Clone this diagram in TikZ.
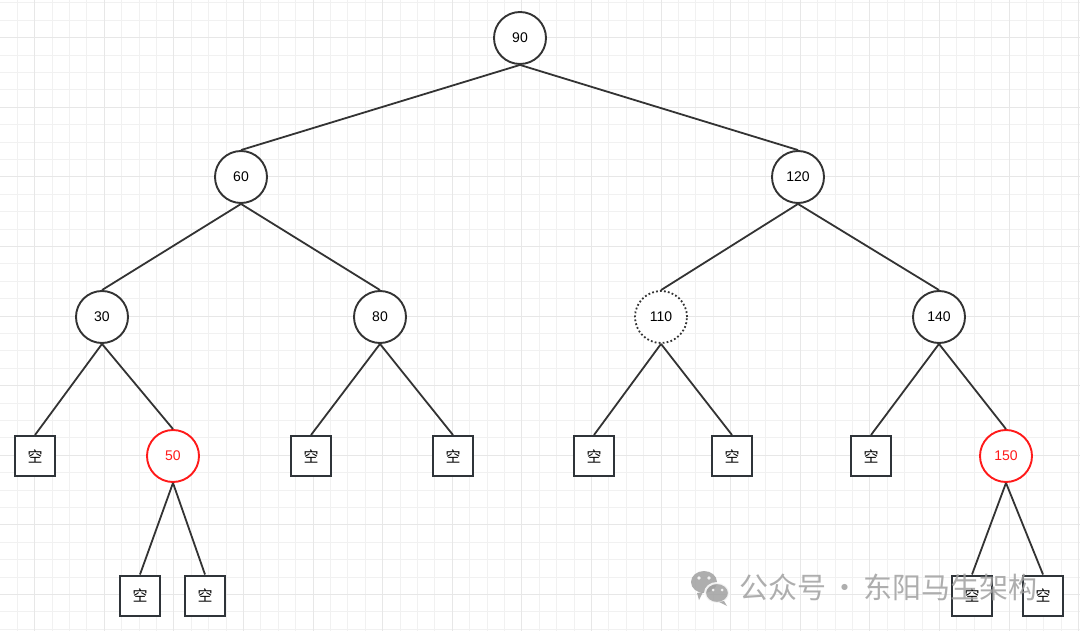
\documentclass[tikz,border=0pt]{standalone}
\usepackage{fontspec}
\setmainfont{Liberation Sans}
\newfontfamily\cjk{Noto Sans CJK SC}
\definecolor{linec}{HTML}{333333}
\definecolor{boxc}{HTML}{2F3439}
\definecolor{gridminor}{HTML}{F1F1F1}
\definecolor{gridmajor}{HTML}{E7E7E7}
\definecolor{wm}{HTML}{A0A0A0}
\definecolor{nred}{HTML}{FF1A1A}
\begin{document}
\begin{tikzpicture}[x=1pt,y=-1pt,
  tn/.style={circle, draw=linec, line width=1.9pt, fill=white, minimum size=52pt, inner sep=0pt, font=\fontsize{14}{16}\selectfont},
  rn/.style={tn, draw=nred, text=nred},
  dn/.style={tn, line width=1.8pt, dash pattern=on 1.8pt off 2.2pt},
  eb/.style={rectangle, draw=boxc, line width=2pt, fill=white, minimum size=40pt, inner sep=0pt, font=\cjk\fontsize{15}{17}\selectfont},
  ed/.style={draw=linec, line width=1.8pt},
  wmtext/.style={text=wm, font=\cjk\fontsize{29}{31}\selectfont, anchor=west, inner sep=0pt, opacity=0.85}
]
\fill[white] (0,0) rectangle (1080,631);
\useasboundingbox (0,0) rectangle (1080,631);
% grid
\foreach \i in {0,...,62} {
  \draw[gridminor, line width=0.9pt] ({-0.1+17.4*\i},0) -- ({-0.1+17.4*\i},631);
}
\foreach \i in {0,...,37} {
  \draw[gridminor, line width=0.9pt] (0,{2.9+17.4*\i}) -- (1080,{2.9+17.4*\i});
}
\foreach \i in {0,...,15} {
  \draw[gridmajor, line width=1.1pt] ({34.7+69.6*\i},0) -- ({34.7+69.6*\i},631);
}
\foreach \i in {0,...,8} {
  \draw[gridmajor, line width=1.1pt] (0,{37.7+69.6*\i}) -- (1080,{37.7+69.6*\i});
}
% nodes
\node[tn] (n90) at (520,38) {90};
\node[tn] (n60) at (241,177) {60};
\node[tn] (n120) at (798,177) {120};
\node[tn] (n30) at (102,317) {30};
\node[tn] (n80) at (380,317) {80};
\node[dn] (n110) at (661,317) {110};
\node[tn] (n140) at (939,317) {140};
\node[eb] (e1) at (35,456) {空};
\node[rn] (n50) at (173,456) {50};
\node[eb] (e2) at (311,456) {空};
\node[eb] (e3) at (453,456) {空};
\node[eb] (e4) at (594,456) {空};
\node[eb] (e5) at (732,456) {空};
\node[eb] (e6) at (871,456) {空};
\node[rn] (n150) at (1006,456) {150};
\node[eb] (e7) at (140,595.5) {空};
\node[eb] (e8) at (205,595.5) {空};
\node[eb] (e9) at (972,595.5) {空};
\node[eb] (e10) at (1043,595.5) {空};
% edges
\draw[ed] (n90.south) -- (n60.north);
\draw[ed] (n90.south) -- (n120.north);
\draw[ed] (n60.south) -- (n30.north);
\draw[ed] (n60.south) -- (n80.north);
\draw[ed] (n120.south) -- (n110.north);
\draw[ed] (n120.south) -- (n140.north);
\draw[ed] (n30.south) -- (e1.north);
\draw[ed] (n30.south) -- (n50.north);
\draw[ed] (n80.south) -- (e2.north);
\draw[ed] (n80.south) -- (e3.north);
\draw[ed] (n110.south) -- (e4.north);
\draw[ed] (n110.south) -- (e5.north);
\draw[ed] (n140.south) -- (e6.north);
\draw[ed] (n140.south) -- (n150.north);
\draw[ed] (n50.south) -- (e7.north);
\draw[ed] (n50.south) -- (e8.north);
\draw[ed] (n150.south) -- (e9.north);
\draw[ed] (n150.south) -- (e10.north);
% watermark
\begin{scope}[opacity=0.85]
\fill[wm] (704,582) ellipse [x radius=13pt, y radius=11pt];
\fill[wm] (697,593) -- (699,600) -- (703,592) -- cycle;
\draw[white, line width=2pt, fill=wm] (717,593) ellipse [x radius=12pt, y radius=10pt];
\fill[wm] (724,601) -- (727,606) -- (719,602) -- cycle;
\fill[white] (699,578) circle (1.8pt) (709,578) circle (1.8pt);
\fill[white] (713,590) circle (1.5pt) (722,590) circle (1.5pt);
\end{scope}
\node[wmtext] (wmt) at (739,587) {公众号\hspace{4pt}·\hspace{4pt}东阳马生架构};
\end{tikzpicture}
\end{document}
